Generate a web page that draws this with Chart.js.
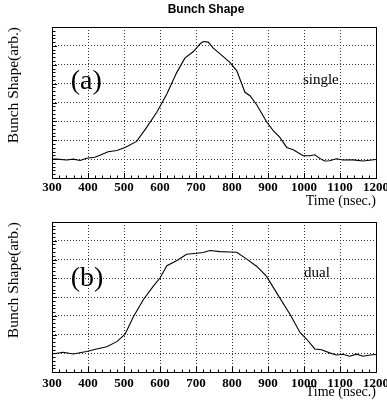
<!DOCTYPE html>
<html>
<head>
<meta charset="utf-8">
<script src="https://cdn.jsdelivr.net/npm/chart.js@4.4.1/dist/chart.umd.min.js"></script>
<style>
  html, body { margin: 0; padding: 0; background: #fff; }
  #wrap { position: relative; width: 387px; height: 410px; overflow: hidden; }
  canvas { position: absolute; left: 0; }
</style>
</head>
<body>
<div id="wrap">
  <canvas id="chartA" width="387" height="212" style="top:0"></canvas>
  <canvas id="chartB" width="387" height="205" style="top:205px"></canvas>
</div>
<script>
// time axis (nsec.) and bunch shape (arb.)
const timesA = [300, 313, 341, 359, 378, 396, 419, 433, 456, 480, 503, 535, 563, 591, 619, 646, 669, 693, 711, 720, 734, 748, 767, 794, 813, 836, 850, 869, 896, 915, 933, 952, 970, 998, 1016, 1030, 1044, 1057, 1071, 1090, 1108, 1136, 1164, 1200];
const shapeA = [1.0, 1.0, 0.95, 1.0, 0.93, 1.05, 1.1, 1.2, 1.39, 1.46, 1.62, 1.94, 2.68, 3.48, 4.45, 5.57, 6.35, 6.7, 7.1, 7.23, 7.2, 6.88, 6.58, 6.13, 5.69, 4.54, 4.36, 3.87, 2.98, 2.5, 2.15, 1.62, 1.5, 1.18, 1.18, 1.23, 1.04, 0.9, 0.91, 1.02, 0.95, 0.96, 0.9, 0.98];

const timesB = [300, 331, 359, 396, 424, 452, 480, 503, 526, 554, 581, 600, 619, 646, 674, 702, 720, 739, 767, 794, 813, 841, 869, 896, 924, 961, 989, 1007, 1030, 1049, 1071, 1090, 1108, 1127, 1146, 1164, 1183, 1200];
const shapeB = [0.96, 1.05, 0.96, 1.09, 1.23, 1.35, 1.62, 2.02, 2.95, 3.87, 4.57, 5.01, 5.67, 5.93, 6.28, 6.33, 6.37, 6.48, 6.42, 6.4, 6.39, 6.02, 5.63, 5.1, 4.22, 3.08, 2.11, 1.76, 1.23, 1.19, 1.02, 0.91, 0.95, 0.84, 0.95, 0.84, 0.91, 0.93];

const timeTicks = [300, 400, 500, 600, 700, 800, 900, 1000, 1100, 1200];
const shapeRange = [0, 8];

const SERIF = "'Liberation Serif', 'Times New Roman', serif";

// frame, inward ticks (ROOT style) and the panel texts
const framePlugin = {
  id: 'frame',
  afterDraw(chart, args, opts) {
    const { ctx, chartArea: a, scales: { x, y } } = chart;
    ctx.save();
    ctx.strokeStyle = '#000';
    ctx.lineWidth = 1;
    ctx.beginPath();
    const t0 = timeTicks[0];
    const t1 = timeTicks[timeTicks.length - 1];
    for (let i = 0; i <= (t1 - t0) / 20; i++) {
      const px = Math.round(x.getPixelForValue(t0 + i * 20)) + 0.5;
      const len = i % 5 === 0 ? 5 : 2.5;
      ctx.moveTo(px, a.bottom);
      ctx.lineTo(px, a.bottom - len);
    }
    for (let i = 0; i <= (shapeRange[1] - shapeRange[0]) * 5; i++) {
      const py = Math.round(y.getPixelForValue(shapeRange[0] + i * 0.2)) + 0.5;
      const len = i % 5 === 0 ? 5 : 3.5;
      ctx.moveTo(a.left, py);
      ctx.lineTo(a.left + len, py);
    }
    ctx.stroke();
    ctx.strokeRect(Math.round(a.left) + 0.5, Math.round(a.top) + 0.5,
      Math.round(a.right - a.left), Math.round(a.bottom - a.top));

    ctx.fillStyle = '#000';
    ctx.textBaseline = 'middle';
    ctx.textAlign = 'left';
    ctx.font = '28px ' + SERIF;
    ctx.fillText(opts.tag, x.getPixelForValue(opts.tagAt[0]), y.getPixelForValue(opts.tagAt[1]));
    ctx.font = '15px ' + SERIF;
    ctx.fillText(opts.note, x.getPixelForValue(opts.noteAt[0]), y.getPixelForValue(opts.noteAt[1]));
    if (opts.title) {
      ctx.textAlign = 'center';
      ctx.font = "bold 12px 'Liberation Sans', Arial, sans-serif";
      ctx.fillText(opts.title, 206, 10);
    }
    ctx.restore();
  }
};

const makeChart = (id, times, shape, cfg) => {
  const ctx = document.getElementById(id).getContext('2d');
  return new Chart(ctx, {
    type: 'line',
    data: {
      datasets: [{
        data: times.map((t, i) => ({ x: t, y: shape[i] })),
        borderColor: '#000',
        borderWidth: 1.1,
        pointRadius: 0,
        tension: 0,
        fill: false
      }]
    },
    options: {
      responsive: false,
      animation: false,
      devicePixelRatio: 1,
      layout: { padding: { top: cfg.padTop, left: 0, right: 11, bottom: 0 } },
      plugins: {
        legend: { display: false },
        tooltip: { enabled: false },
        title: { display: false },
        frame: cfg.frame
      },
      scales: {
        x: {
          type: 'linear',
          min: timeTicks[0],
          max: timeTicks[timeTicks.length - 1],
          afterFit: (scale) => {
            scale.height = cfg.xHeight;
            scale.paddingLeft = 0;
            scale.paddingRight = 0;
          },
          afterBuildTicks: (scale) => {
            scale.ticks = timeTicks.map((v) => ({ value: v }));
          },
          ticks: {
            color: '#000',
            padding: cfg.tickPad,
            maxRotation: 0,
            autoSkip: false,
            callback: (v) => String(v),
            font: { family: SERIF, size: 13, weight: 'bold' }
          },
          grid: { color: '#333', lineWidth: 1, drawTicks: false },
          border: { display: false, dash: [1, 2] },
          title: {
            display: true,
            text: 'Time (nsec.)',
            align: 'end',
            color: '#000',
            font: { family: SERIF, size: 14 },
            padding: { top: 0, bottom: cfg.titlePad }
          }
        },
        y: {
          min: shapeRange[0],
          max: shapeRange[1],
          afterFit: (scale) => { scale.width = 52; },
          ticks: { display: false, stepSize: 1 },
          grid: { color: '#333', lineWidth: 1, drawTicks: false },
          border: { display: false, dash: [1, 2] },
          title: {
            display: true,
            text: 'Bunch Shape(arb.)',
            align: 'end',
            color: '#000',
            font: { family: SERIF, size: 15.5 },
            padding: { top: 5, bottom: 0 }
          }
        }
      }
    },
    plugins: [framePlugin]
  });
};

makeChart('chartA', timesA, shapeA, {
  padTop: 27, xHeight: 34, tickPad: 2, titlePad: 2,
  frame: { tag: '(a)', tagAt: [352, 5.1], note: 'single', noteAt: [997, 5.2], title: 'Bunch Shape' }
});

makeChart('chartB', timesB, shapeB, {
  padTop: 17, xHeight: 38, tickPad: 4, titlePad: 9,
  frame: { tag: '(b)', tagAt: [352, 5.0], note: 'dual', noteAt: [1000, 5.3] }
});
</script>
</body>
</html>
